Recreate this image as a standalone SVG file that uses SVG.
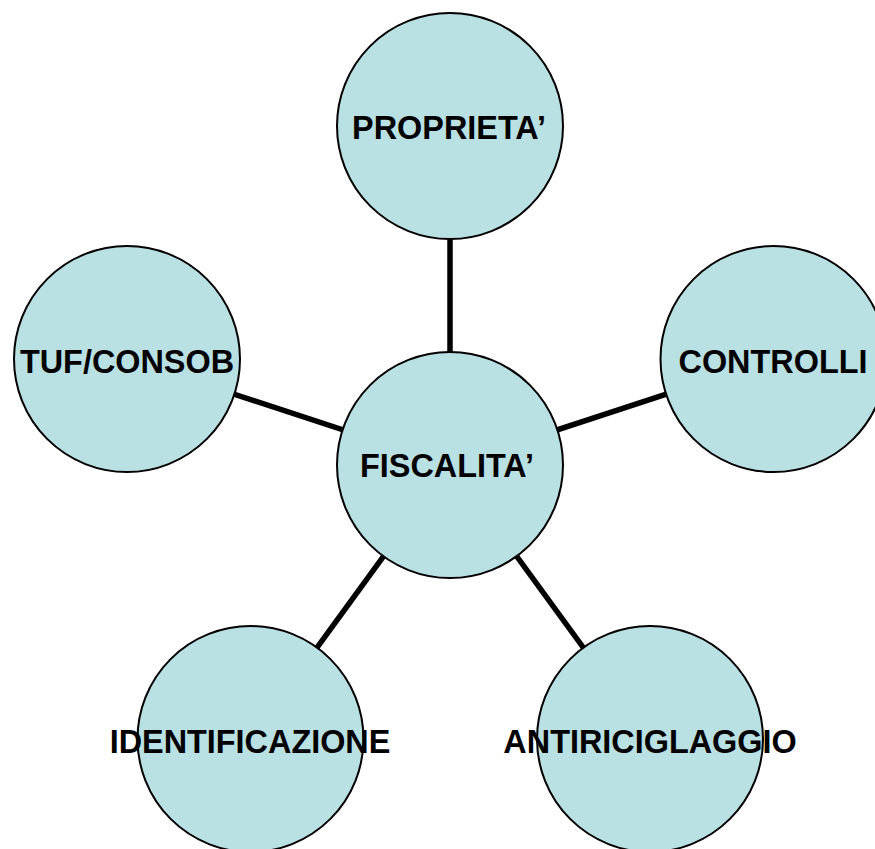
<svg xmlns="http://www.w3.org/2000/svg" width="875" height="849" viewBox="0 0 875 849">
<style>
.node circle{fill:#B9E0E3;stroke:#000;stroke-width:2}
.node text{font-family:"Liberation Sans",Arial,sans-serif;font-weight:bold;font-size:32.4px;fill:#000;text-anchor:middle}
.edges line{stroke:#000;stroke-width:5.5}
</style>
<rect width="875" height="849" fill="#fff"/>
<g id="connectors" class="edges">
<line x1="450" y1="465" x2="450" y2="126"/>
<line x1="450" y1="465" x2="127" y2="359"/>
<line x1="450" y1="465" x2="773.5" y2="359"/>
<line x1="450" y1="465" x2="250.5" y2="739"/>
<line x1="450" y1="465" x2="650" y2="739"/>
</g>
<g id="proprieta" class="node"><circle cx="450" cy="126" r="113"/><text x="449" y="139">PROPRIETA’</text></g>
<g id="tuf-consob" class="node"><circle cx="127" cy="359" r="113"/><text x="127" y="372.5">TUF/CONSOB</text></g>
<g id="controlli" class="node"><circle cx="773.5" cy="359" r="113"/><text x="773" y="372.5">CONTROLLI</text></g>
<g id="fiscalita" class="node"><circle cx="450" cy="465" r="113"/><text x="447" y="477">FISCALITA’</text></g>
<g id="identificazione" class="node"><circle cx="250.5" cy="739" r="113"/><text x="250" y="752.5">IDENTIFICAZIONE</text></g>
<g id="antiriciglaggio" class="node"><circle cx="650" cy="739" r="113"/><text x="650" y="752.5">ANTIRICIGLAGGIO</text></g>
</svg>
